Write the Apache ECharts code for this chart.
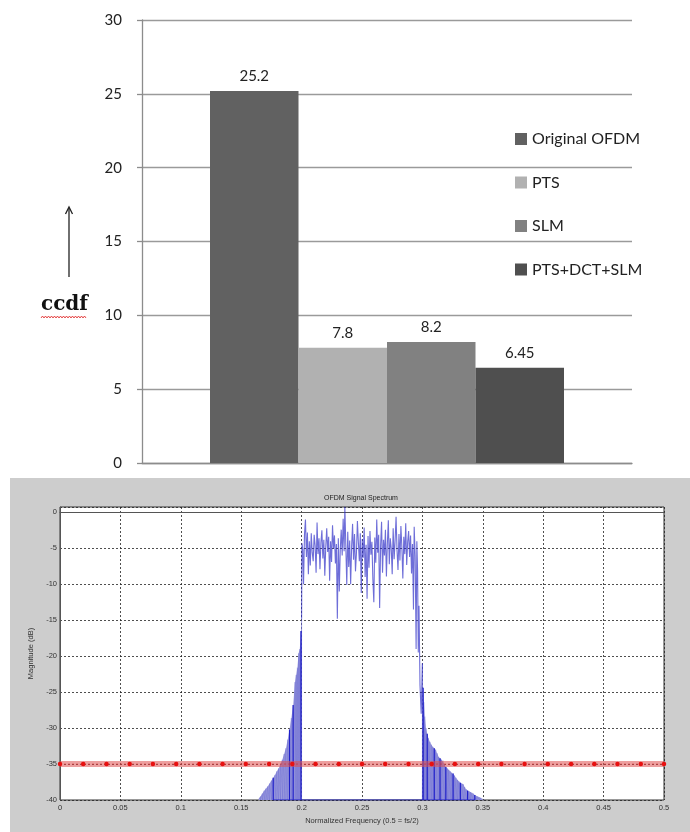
<!DOCTYPE html>
<html>
<head>
<meta charset="utf-8">
<script src="https://cdn.jsdelivr.net/npm/echarts@6/dist/echarts.min.js"></script>
<style>
  html, body { margin: 0; padding: 0; background: #fff; }
  #wrap { position: relative; width: 690px; height: 832px; }
  #top { position: absolute; left: 0; top: 0; width: 690px; height: 478px; }
  #bottom { position: absolute; left: 10px; top: 478px; width: 680px; height: 354px; background: #cdcdcd; }
</style>
</head>
<body>
<div id="wrap">
  <div id="top"></div>
  <div id="bottom"></div>
</div>
<script>
// ---- bar chart (ccdf per method) ----
var methods = ['Original OFDM', 'PTS', 'SLM', 'PTS+DCT+SLM'];
var ccdfValues = [25.2, 7.8, 8.2, 6.45];
var ccdfLabels = ['25.2', '7.8', '8.2', '6.45'];
var barColors = ['#616161', '#b1b1b1', '#818181', '#4f4f4f'];

// ---- spectrum plot ----
var spectrumTitle = 'OFDM Signal Spectrum';
var freqName = 'Normalized Frequency (0.5 = fs/2)';
var magName = 'Magnitude (dB)';
// in-band spectrum [freq, dB]
var bandPoints = [
  [0.2000, -14.8], [0.2003, -4.3], [0.2010, -5.2], [0.2016, -10.0], [0.2024, -3.0], [0.2032, -1.0],
  [0.2040, -6.2], [0.2048, -2.8], [0.2056, -8.6], [0.2064, -4.0], [0.2072, -7.4], [0.2080, -2.9],
  [0.2088, -5.6], [0.2096, -6.8], [0.2104, -3.1], [0.2112, -4.6], [0.2120, -8.4], [0.2128, -1.4],
  [0.2136, -5.8], [0.2144, -3.6], [0.2152, -7.9], [0.2160, -4.2], [0.2168, -2.5], [0.2176, -6.4],
  [0.2184, -3.8], [0.2192, -8.8], [0.2200, -4.8], [0.2208, -2.2], [0.2216, -5.5], [0.2224, -3.4],
  [0.2232, -9.5], [0.2240, -4.0], [0.2248, -6.9], [0.2256, -1.8], [0.2264, -5.0], [0.2272, -3.2],
  [0.2280, -7.1], [0.2288, -4.4], [0.2296, -14.8], [0.2304, -3.6], [0.2312, -11.0], [0.2320, -5.2],
  [0.2328, -2.4], [0.2336, -6.0], [0.2344, -0.9], [0.2352, -5.4], [0.2358, 0.8], [0.2366, -4.6],
  [0.2374, -10.1], [0.2382, -2.7], [0.2390, -7.6], [0.2398, -3.9], [0.2406, -10.0], [0.2414, -4.8],
  [0.2422, -1.6], [0.2430, -6.6], [0.2438, -3.0], [0.2446, -8.2], [0.2454, -5.6], [0.2462, -1.2],
  [0.2470, -4.2], [0.2478, -6.8], [0.2486, -2.9], [0.2494, -11.2], [0.2502, -3.7], [0.2510, -6.3],
  [0.2518, -2.1], [0.2526, -9.0], [0.2534, -4.5], [0.2542, -12.0], [0.2550, -3.3], [0.2558, -7.7],
  [0.2566, -2.6], [0.2574, -5.9], [0.2582, -4.1], [0.2590, -9.3], [0.2598, -12.5], [0.2606, -3.5],
  [0.2614, -7.0], [0.2622, -1.0], [0.2630, -5.6], [0.2638, -3.1], [0.2646, -13.3], [0.2654, -4.6],
  [0.2662, -1.3], [0.2670, -8.4], [0.2678, -3.8], [0.2686, -6.0], [0.2694, -2.4], [0.2702, -8.9],
  [0.2710, -4.3], [0.2718, -1.1], [0.2726, -7.2], [0.2734, -3.6], [0.2742, -5.0], [0.2750, -8.6],
  [0.2758, -2.2], [0.2766, -6.5], [0.2774, -3.9], [0.2782, -0.6], [0.2790, -5.3], [0.2798, -8.0],
  [0.2806, -3.0], [0.2814, -6.7], [0.2822, -1.9], [0.2830, -4.8], [0.2838, -9.2], [0.2846, -3.4],
  [0.2854, -5.8], [0.2862, -1.5], [0.2870, -7.3], [0.2878, -4.1], [0.2886, -2.6], [0.2894, -6.2],
  [0.2902, -3.2], [0.2910, -8.5], [0.2918, -4.4], [0.2926, -13.5], [0.2932, -2.0], [0.2940, -6.0],
  [0.2948, -19.0], [0.2954, -4.0], [0.2960, -8.0], [0.2966, -19.5], [0.2972, -13.0], [0.2980, -24.0],
  [0.2990, -28.0], [0.3000, -21.0]
];
// lower skirt [freq, dB]
var leftSkirt = [
  [0.1645, -39.8], [0.1660, -39.5], [0.1675, -39.1], [0.1690, -38.7], [0.1705, -38.4], [0.1720, -38.1],
  [0.1735, -37.7], [0.1750, -37.3], [0.1765, -36.9], [0.1780, -36.5], [0.1795, -36.0], [0.1810, -35.6],
  [0.1825, -35.0], [0.1840, -34.4], [0.1855, -33.6], [0.1870, -32.8], [0.1885, -31.6], [0.1900, -30.2],
  [0.1915, -28.6], [0.1930, -26.8], [0.1945, -23.6], [0.1955, -22.6], [0.1965, -21.6], [0.1975, -19.6],
  [0.1985, -19.0], [0.1995, -16.5], [0.2000, -14.8]
];
// upper skirt [freq, dB]
var rightSkirt = [
  [0.3000, -21.0], [0.3006, -24.4], [0.3012, -26.4], [0.3020, -28.4], [0.3030, -30.0], [0.3040, -30.8],
  [0.3050, -31.4], [0.3062, -31.9], [0.3074, -32.3], [0.3086, -32.6], [0.3098, -32.8], [0.3110, -33.0],
  [0.3122, -33.5], [0.3134, -34.0], [0.3146, -34.2], [0.3158, -34.4], [0.3170, -34.5], [0.3182, -35.0],
  [0.3194, -35.4], [0.3206, -35.6], [0.3218, -35.8], [0.3230, -36.0], [0.3242, -36.2], [0.3254, -36.3],
  [0.3266, -36.6], [0.3278, -36.9], [0.3290, -37.2], [0.3302, -37.4], [0.3314, -37.6], [0.3326, -37.7],
  [0.3338, -37.8], [0.3350, -38.2], [0.3362, -38.5], [0.3374, -38.7], [0.3386, -38.8], [0.3398, -38.9],
  [0.3410, -39.0], [0.3422, -39.1], [0.3434, -39.3], [0.3446, -39.5], [0.3458, -39.5], [0.3470, -39.6],
  [0.3482, -39.7], [0.3494, -39.8], [0.3506, -39.9], [0.3518, -40.0]
];
// darker stems that stand out inside the skirts [freq]
var darkStems = [0.1765, 0.1900, 0.1930, 0.1995, 0.3006, 0.3040, 0.3098, 0.3146, 0.3194, 0.3254, 0.3314, 0.3374, 0.3434];
// threshold line at -35 dB with markers
var thresholdLevel = -35;
var thresholdFreqs = [0, 0.0192, 0.0385, 0.0577, 0.0769, 0.0962, 0.1154, 0.1346, 0.1538, 0.1731,
  0.1923, 0.2115, 0.2308, 0.25, 0.2692, 0.2885, 0.3077, 0.3269, 0.3462, 0.3654, 0.3846,
  0.4038, 0.4231, 0.4423, 0.4615, 0.4808, 0.5];

var magMin = -40, magMax = 0.75;

// ================= top chart =================
var topChart = echarts.init(document.getElementById('top'));
var barSeries = methods.map(function (name, i) {
  return {
    name: name,
    type: 'bar',
    data: [ccdfValues[i]],
    barWidth: 88.5,
    barGap: '0%',
    itemStyle: { color: barColors[i] },
    label: {
      show: true,
      position: 'top',
      distance: 7,
      formatter: function () { return ccdfLabels[i]; },
      fontFamily: 'Lato',
      fontSize: 15,
      color: '#222'
    }
  };
});

// wavy underline under "ccdf"
var wavy = [];
for (var wx = 41; wx <= 86; wx += 1.5) {
  wavy.push([wx, (Math.round((wx - 41) / 1.5) % 2) ? 316 : 318]);
}

topChart.setOption({
  animation: false,
  backgroundColor: '#fff',
  grid: { left: 142, right: 58, top: 20, bottom: 15 },
  legend: {
    orient: 'vertical',
    left: 515,
    top: 131,
    padding: 0,
    itemWidth: 12,
    itemHeight: 12,
    itemGap: 27.5,
    icon: 'rect',
    textStyle: { fontFamily: 'Lato', fontSize: 16, color: '#222', lineHeight: 14 },
    data: methods
  },
  xAxis: {
    type: 'category',
    data: [''],
    axisLine: { lineStyle: { color: '#8c8c8c', width: 1.3 } },
    axisTick: { show: false },
    axisLabel: { show: false }
  },
  yAxis: {
    type: 'value',
    min: 0,
    max: 30,
    interval: 5,
    axisLine: { show: true, lineStyle: { color: '#8c8c8c', width: 1.3 } },
    axisTick: { show: true, length: 5, lineStyle: { color: '#8c8c8c', width: 1.3 } },
    axisLabel: { fontFamily: 'Lato', fontSize: 15, color: '#222', margin: 20 },
    splitLine: { lineStyle: { color: '#9a9a9a', width: 1.3 } }
  },
  series: barSeries,
  graphic: [
    { type: 'line', shape: { x1: 69, y1: 277, x2: 69, y2: 208 }, style: { stroke: '#222', lineWidth: 1.3 } },
    { type: 'polyline', shape: { points: [[65.5, 214], [69, 207], [72.5, 214]] }, style: { stroke: '#222', lineWidth: 1.3, fill: null } },
    { type: 'text', x: 41, y: 305, style: { text: 'ccdf', font: 'bold 20px "DejaVu Serif"', fill: '#111', verticalAlign: 'middle' } },
    { type: 'polyline', shape: { points: wavy }, style: { stroke: '#e02020', lineWidth: 0.8, fill: null } },
    { type: 'line', shape: { x1: 10, y1: 478.5, x2: 690, y2: 478.5 }, style: { stroke: '#d6d6d6', lineWidth: 1 } }
  ]
});

// ================= bottom chart =================
function toStems(pts) {
  var out = [];
  pts.forEach(function (p) {
    out.push([p[0], magMin], [p[0], p[1]], [p[0], magMin]);
  });
  return out;
}
function pick(pts, freqs) {
  return pts.filter(function (p) { return freqs.indexOf(p[0]) >= 0; });
}
var thresholdLine = thresholdFreqs.map(function (f) { return [f, thresholdLevel]; });
var allSkirt = leftSkirt.concat(rightSkirt);

var smallFont = { fontFamily: 'Liberation Sans', fontSize: 7.5, color: '#333' };
var dotted = { color: '#222', width: 0.8, type: [2, 2] };

var bottomChart = echarts.init(document.getElementById('bottom'));
bottomChart.setOption({
  animation: false,
  grid: {
    left: 50, right: 26, top: 29, bottom: 32,
    show: true, backgroundColor: '#fff', borderColor: '#333', borderWidth: 1
  },
  xAxis: {
    type: 'value',
    min: 0,
    max: 0.5,
    interval: 0.05,
    name: freqName,
    nameLocation: 'middle',
    nameGap: 12,
    nameTextStyle: smallFont,
    axisLine: { lineStyle: { color: '#555' } },
    axisTick: { show: false },
    axisLabel: Object.assign({ margin: 4 }, smallFont),
    splitLine: { show: true, lineStyle: dotted }
  },
  yAxis: {
    type: 'value',
    min: magMin,
    max: magMax,
    interval: 5,
    name: magName,
    nameLocation: 'middle',
    nameGap: 21,
    nameTextStyle: smallFont,
    axisLine: { lineStyle: { color: '#555' } },
    axisTick: { show: false },
    axisLabel: Object.assign({
      margin: 3,
      showMaxLabel: false,
      formatter: function (v) { return (Math.abs(v % 5) < 1e-6) ? String(v) : ''; }
    }, smallFont),
    splitLine: { show: true, lineStyle: dotted }
  },
  series: [
    { type: 'line', data: leftSkirt, symbol: 'none', lineStyle: { width: 0, opacity: 0 },
      areaStyle: { color: '#a4a4e0', origin: 'start', opacity: 1 }, z: 2 },
    { type: 'line', data: rightSkirt, symbol: 'none', lineStyle: { width: 0, opacity: 0 },
      areaStyle: { color: '#a4a4e0', origin: 'start', opacity: 1 }, z: 2 },
    { type: 'line', data: toStems(leftSkirt), symbol: 'none',
      lineStyle: { color: '#5050cc', width: 0.8, opacity: 0.35 }, z: 3 },
    { type: 'line', data: toStems(rightSkirt), symbol: 'none',
      lineStyle: { color: '#5050cc', width: 0.8, opacity: 0.35 }, z: 3 },
    { type: 'line', data: toStems(pick(allSkirt, darkStems)), symbol: 'none',
      lineStyle: { color: '#1515c8', width: 1.2, opacity: 0.9 }, z: 3 },
    { type: 'line', data: bandPoints, symbol: 'none',
      lineStyle: { color: '#3030c8', width: 1.1, opacity: 0.7 }, z: 4 },
    { type: 'line', data: thresholdLine, symbol: 'none',
      lineStyle: { color: 'rgba(222,80,80,0.55)', width: 6 }, z: 5 },
    { type: 'line', data: thresholdLine, symbol: 'circle', symbolSize: 4.5,
      itemStyle: { color: '#e81010' },
      lineStyle: { color: 'rgba(200,30,30,0.6)', width: 0.8, type: [2, 2] }, z: 6 }
  ],
  graphic: [
    { type: 'text', x: 351, y: 20, style: { text: spectrumTitle, font: '7px "Liberation Sans"', fill: '#222', align: 'center', verticalAlign: 'middle' } }
  ]
});
</script>
</body>
</html>
